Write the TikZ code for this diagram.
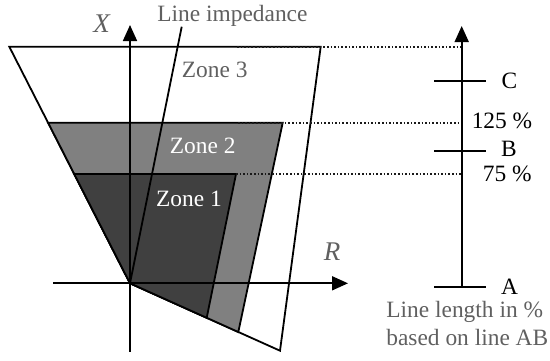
\documentclass[tikz,border=0pt]{standalone}
\usepackage{fontspec}
\setmainfont{Liberation Serif}
\usepackage{xcolor}
\usetikzlibrary{arrows.meta}

\definecolor{zonetwo}{HTML}{808080}
\definecolor{zoneone}{HTML}{404040}
\definecolor{labgray}{HTML}{606060}

\begin{document}
\begin{tikzpicture}[
    x=0.5pt, y=-0.5pt,
    zone/.style = {draw=black, line width=0.9pt, line join=miter},
    axis/.style = {line width=0.9pt, -{Triangle[length=8pt, width=7pt]}},
    tick/.style = {line width=0.9pt},
    guide/.style = {densely dotted, line width=0.8pt, color=black!90},
    glab/.style = {font=\fontsize{11.7}{14}\selectfont, color=labgray, inner sep=0pt},
    wlab/.style = {font=\fontsize{11.7}{14}\selectfont, color=white, inner sep=0pt},
    blab/.style = {font=\fontsize{11.7}{14}\selectfont, color=black, inner sep=0pt},
    axlab/.style = {font=\fontsize{13.5}{16}\selectfont\itshape, color=labgray, inner sep=0pt}
]
\useasboundingbox (0,0) rectangle (550,360);

%% ---- CORNERS ----
\coordinate (O)    at (130, 283.3);
\coordinate (z3tl) at (9.3, 46.7);
\coordinate (z3tr) at (320.7, 46.7);
\coordinate (z3br) at (280, 350.7);
\coordinate (z2tl) at (48.1, 122.7);
\coordinate (z2tr) at (282.7, 122.7);
\coordinate (z2br) at (238.3, 332);
\coordinate (z1tl) at (74.2, 174);
\coordinate (z1tr) at (236, 174);
\coordinate (z1br) at (206.7, 317.8);

%% ---- ZONES ----
\draw[zone, fill=white]    (O) -- (z3tl) -- (z3tr) -- (z3br) -- cycle;
\draw[zone, fill=zonetwo]  (O) -- (z2tl) -- (z2tr) -- (z2br) -- cycle;
\draw[zone, fill=zoneone]  (O) -- (z1tl) -- (z1tr) -- (z1br) -- cycle;

%% ---- SCALE ----
\coordinate (A)    at (461.7, 287.3);
\coordinate (B)    at (461.7, 150.7);
\coordinate (C)    at (461.7, 80.7);
\coordinate (top)  at (461.7, 26);
\coordinate (g3)   at (461.7, 46.7);
\coordinate (g2)   at (461.7, 122.7);
\coordinate (g1)   at (461.7, 174);

\draw[guide] (237, 46.7) -- (g3);
\draw[guide] (238, 122.7) -- (g2);
\draw[guide] (z1tr) -- (g1);

\draw[axis] (A) -- (top);
\draw[tick] (A) +(-27.7,0) -- +(24,0);
\draw[tick] (B) +(-27.7,0) -- +(24,0);
\draw[tick] (C) +(-27.7,0) -- +(24,0);

%% ---- AXES ----
\coordinate (xlo) at (130, 351.7);
\coordinate (xhi) at (130, 25);
\coordinate (rlo) at (53, 283.3);
\coordinate (rhi) at (348, 283.3);
\coordinate (zl)  at (181.7, 26.7);

\draw[axis] (xlo) -- (xhi);
\draw[axis] (rlo) -- (rhi);
\draw[line width=0.9pt] (O) -- (zl);

%% ---- LABELS ----
\node[axlab, anchor=base] (xlab) at (101.5, 32) {X};
\node[axlab, anchor=base] (rlab) at (332, 260) {R};
\node[glab, anchor=base west] (imp) at (157, 21) {Line impedance};
\node[glab, anchor=base] (zthree) at (214.7, 77.3) {Zone 3};
\node[wlab, anchor=base] (ztwo)   at (202.7, 153.5) {Zone 2};
\node[wlab, anchor=base] (zone)   at (189, 206.7) {Zone 1};

\node[blab, anchor=base] (clab) at (509.5, 88) {C};
\node[blab, anchor=base] (blab) at (509, 156.7) {B};
\node[blab, anchor=base] (alab) at (509.5, 294.5) {A};
\node[blab, anchor=base] (p125) at (502, 128.3) {125 \%};
\node[blab, anchor=base] (p75)  at (507.3, 181.7) {75 \%};

\node[glab, anchor=base west] (len1) at (386, 317.5) {Line length in \%};
\node[glab, anchor=base west] (len2) at (386, 345) {based on line AB};

\end{tikzpicture}
\end{document}
